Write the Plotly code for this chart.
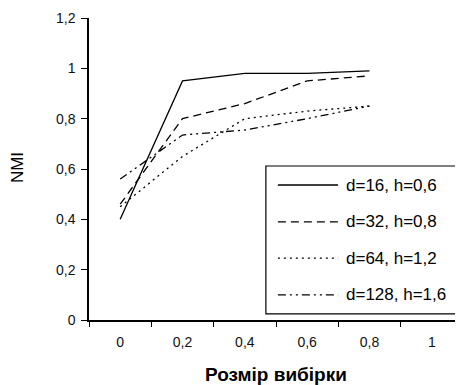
import plotly.graph_objects as go

categories = ["0", "0,2", "0,4", "0,6", "0,8", "1"]
series_names = ["d=16, h=0,6", "d=32, h=0,8", "d=64, h=1,2", "d=128, h=1,6"]
s1 = [0.40, 0.95, 0.98, 0.98, 0.99]
s2 = [0.46, 0.80, 0.86, 0.95, 0.97]
s3 = [0.45, 0.65, 0.80, 0.83, 0.85]
s4 = [0.56, 0.735, 0.755, 0.80, 0.85]
y_ticks = [0, 0.2, 0.4, 0.6, 0.8, 1.0, 1.2]
y_tick_labels = ["0", "0,2", "0,4", "0,6", "0,8", "1", "1,2"]

series = [s1, s2, s3, s4]
dashes = ["solid", "8px,5px", "2px,4px", "8px,4px,2px,4px,2px,4px"]
widths = [1.3, 1.3, 1.3, 1.3]

fig = go.Figure()
for name, vals, d, w in zip(series_names, series, dashes, widths):
    fig.add_trace(go.Scatter(
        x=categories[:len(vals)], y=vals, mode="lines", name=name,
        line=dict(color="black", width=w, dash=d), showlegend=False,
    ))

# custom legend (Excel-like box)
shapes = [dict(type="rect", xref="paper", yref="paper", x0=0.473, x1=0.987,
               y0=0.02, y1=0.51, line=dict(color="black", width=1.2),
               fillcolor="white", layer="above")]
annotations = []
ys = [0.447, 0.325, 0.205, 0.083]
for name, d, w, yy in zip(series_names, dashes, widths, ys):
    shapes.append(dict(type="line", xref="paper", yref="paper", x0=0.505, x1=0.666,
                       y0=yy, y1=yy, line=dict(color="black", width=w, dash=d),
                       layer="above"))
    annotations.append(dict(text=name, xref="paper", yref="paper", x=0.683, y=yy,
                            xanchor="left", yanchor="middle", showarrow=False,
                            font=dict(family="Liberation Sans, Arial", size=17, color="black")))

annotations.append(dict(text="NMI", xref="paper", yref="paper", x=-0.1925, y=0.503,
                        textangle=-90, xanchor="center", yanchor="middle", showarrow=False,
                        font=dict(family="Liberation Sans, Arial", size=17, color="black")))
annotations.append(dict(text="<b>Розмір вибірки</b>", xref="paper", yref="paper", x=0.5, y=-0.182,
                        xanchor="center", yanchor="middle", showarrow=False,
                        font=dict(family="Liberation Sans, Arial", size=19, color="black")))

# page body has an 8px margin, so figure is sized/offset to compensate
fig.update_layout(
    width=455, height=377,
    margin=dict(l=81, r=0, t=10, b=65, pad=0),
    plot_bgcolor="white", paper_bgcolor="white",
    shapes=shapes, annotations=annotations,
    font=dict(family="Liberation Sans, Arial", color="black"),
    xaxis=dict(type="category", categoryorder="array", categoryarray=categories,
               range=[-0.5, 5.5], tickson="boundaries", ticks="outside", ticklen=5,
               tickcolor="black", showline=True, linecolor="black", linewidth=1.5,
               showgrid=False, zeroline=False, tickfont=dict(size=14, color="#111"),
               ticklabelstandoff=8, automargin=False),
    yaxis=dict(range=[0, 1.2], tickvals=y_ticks, ticktext=y_tick_labels,
               ticks="outside", ticklen=6, tickcolor="black", showline=True,
               linecolor="black", linewidth=1.5, showgrid=False, zeroline=False,
               tickfont=dict(size=14, color="#111"), ticklabelstandoff=3,
               automargin=False),
)

fig.write_html("out.html")
